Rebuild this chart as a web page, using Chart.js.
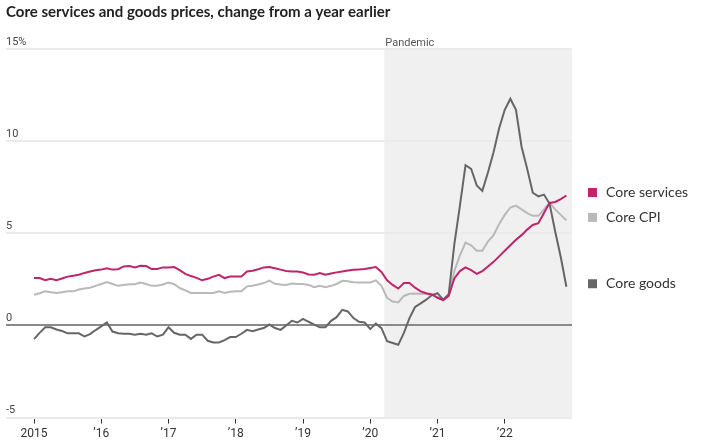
<!DOCTYPE html>
<html>
<head>
<meta charset="utf-8">
<script src="https://cdn.jsdelivr.net/npm/chart.js@4"></script>
<style>
  html, body { margin: 0; padding: 0; background: #fff; }
  #chart { display: block; }
</style>
</head>
<body>
<canvas id="chart" width="702" height="446"></canvas>
<script>
// monthly, Jan 2015 .. Dec 2022, % change from a year earlier
const coreServices = [
  2.57, 2.57, 2.45, 2.53, 2.45, 2.55, 2.65, 2.7, 2.75, 2.85, 2.93, 3.0,
  3.03, 3.1, 3.03, 3.05, 3.2, 3.22, 3.15, 3.24, 3.22, 3.06, 3.06, 3.15,
  3.15, 3.17, 3.0, 2.8, 2.68, 2.58, 2.45, 2.53, 2.65, 2.75, 2.57, 2.65,
  2.66, 2.66, 2.93, 2.97, 3.05, 3.15, 3.17, 3.1, 3.03, 2.95, 2.93, 2.93,
  2.87, 2.77, 2.75, 2.84, 2.75, 2.82, 2.88, 2.93, 2.98, 3.02, 3.04, 3.06,
  3.12, 3.17, 2.9, 2.45, 2.2, 2.0, 2.3, 2.3, 2.05, 1.85, 1.75, 1.68,
  1.5, 1.38, 1.6, 2.55, 2.95, 3.15, 3.0, 2.8, 2.95, 3.2, 3.45, 3.75,
  4.05, 4.35, 4.65, 4.9, 5.2, 5.45, 5.55, 6.1, 6.65, 6.7, 6.85, 7.05
];
const coreCPI = [
  1.67, 1.75, 1.85, 1.8, 1.76, 1.8, 1.85, 1.85, 1.95, 2.0, 2.05, 2.15,
  2.25, 2.35, 2.25, 2.15, 2.2, 2.24, 2.24, 2.33, 2.25, 2.15, 2.15, 2.22,
  2.33, 2.24, 2.03, 1.9, 1.76, 1.76, 1.76, 1.76, 1.76, 1.85, 1.76, 1.83,
  1.85, 1.85, 2.12, 2.15, 2.22, 2.3, 2.43, 2.26, 2.22, 2.2, 2.27, 2.25,
  2.25, 2.2, 2.08, 2.15, 2.08, 2.15, 2.25, 2.42, 2.4, 2.35, 2.33, 2.33,
  2.33, 2.45, 2.15, 1.5, 1.3, 1.25, 1.6, 1.72, 1.73, 1.72, 1.7, 1.65,
  1.55, 1.35, 1.65, 2.95, 3.8, 4.5, 4.35, 4.05, 4.05, 4.55, 4.9, 5.5,
  6.0, 6.4, 6.5, 6.3, 6.1, 5.95, 5.95, 6.3, 6.65, 6.3, 6.0, 5.7
];
const coreGoods = [
  -0.74, -0.4, -0.1, -0.1, -0.22, -0.3, -0.43, -0.43, -0.43, -0.6, -0.47, -0.25,
  -0.05, 0.16, -0.33, -0.42, -0.45, -0.45, -0.5, -0.45, -0.5, -0.43, -0.6, -0.5,
  -0.1, -0.4, -0.5, -0.5, -0.73, -0.5, -0.5, -0.83, -0.92, -0.92, -0.8, -0.63,
  -0.63, -0.45, -0.24, -0.31, -0.22, -0.14, 0.05, -0.14, -0.24, 0.0, 0.25, 0.16,
  0.36, 0.2, 0.05, -0.1, -0.1, 0.25, 0.45, 0.85, 0.76, 0.4, 0.2, 0.16,
  -0.2, 0.1, -0.15, -0.85, -0.95, -1.05, -0.4, 0.4, 1.0, 1.2, 1.4, 1.65,
  1.75, 1.4, 1.7, 4.4, 6.5, 8.7, 8.5, 7.6, 7.3, 8.3, 9.4, 10.7,
  11.7, 12.3, 11.7, 9.7, 8.5, 7.2, 7.0, 7.1, 6.6, 5.1, 3.7, 2.1
];
const seriesNames = ['Core services', 'Core goods', 'Core CPI'];
const yTicks = [-5, 0, 5, 10, 15];
const xTickLabels = ['2015', '\u201916', '\u201917', '\u201918', '\u201919', '\u201920', '\u201921', '\u201922'];
const pandemicStart = 62.5; // mid March 2020, in months since Jan 2015

const colors = { services: '#c0246a', cpi: '#b9b9b9', goods: '#666666' };
const labelFont = "Roboto, 'Liberation Sans', sans-serif";
const textFont = "Lato, 'Noto Sans', sans-serif";

const toPoints = arr => arr.map((v, i) => ({ x: i, y: v }));

const decorations = {
  id: 'decorations',
  beforeDraw(chart) {
    const { ctx, chartArea, scales } = chart;
    const x0 = scales.x.getPixelForValue(pandemicStart);
    ctx.save();
    ctx.fillStyle = '#f0f0f0';
    ctx.fillRect(x0, chartArea.top, chartArea.right - x0, chartArea.bottom - chartArea.top);
    ctx.restore();
  },
  afterDraw(chart) {
    const { ctx, chartArea, scales } = chart;
    ctx.save();
    // title
    ctx.fillStyle = '#222';
    ctx.font = "bold 15px " + textFont;
    ctx.textAlign = 'left';
    ctx.textBaseline = 'alphabetic';
    ctx.fillText('Core services and goods prices, change from a year earlier', 6, 17);
    // pandemic label
    ctx.font = '11px ' + labelFont;
    ctx.fillStyle = '#555';
    ctx.textBaseline = 'middle';
    ctx.fillText('Pandemic', scales.x.getPixelForValue(pandemicStart) + 1, chartArea.top - 6);
    // end legend
    const items = [
      { name: seriesNames[0], color: colors.services, v: coreServices[coreServices.length - 1] },
      { name: seriesNames[2], color: colors.cpi, v: coreCPI[coreCPI.length - 1] },
      { name: seriesNames[1], color: colors.goods, v: coreGoods[coreGoods.length - 1] }
    ];
    ctx.font = '14px ' + textFont;
    items.forEach(it => {
      const y = scales.y.getPixelForValue(it.v) - 3;
      ctx.fillStyle = it.color;
      ctx.fillRect(chartArea.right + 16, y - 4.5, 9, 9);
      ctx.fillStyle = '#333';
      ctx.fillText(it.name, chartArea.right + 34, y);
    });
    ctx.restore();
  }
};

new Chart(document.getElementById('chart'), {
  type: 'line',
  data: {
    datasets: [
      { label: seriesNames[0], data: toPoints(coreServices), borderColor: colors.services },
      { label: seriesNames[1], data: toPoints(coreGoods), borderColor: colors.goods },
      { label: seriesNames[2], data: toPoints(coreCPI), borderColor: colors.cpi }
    ]
  },
  options: {
    responsive: false,
    animation: false,
    devicePixelRatio: 1,
    layout: { padding: { left: 6, right: 130, top: 49, bottom: 2 } },
    elements: {
      line: { borderWidth: 2, tension: 0 },
      point: { radius: 0 }
    },
    plugins: { legend: { display: false }, tooltip: { enabled: false } },
    scales: {
      x: {
        type: 'linear',
        min: -5,
        max: 96,
        afterBuildTicks: s => { s.ticks = xTickLabels.map((t, i) => ({ value: i * 12 })); },
        ticks: {
          callback: v => xTickLabels[v / 12],
          color: '#333',
          font: { family: labelFont, size: 12 },
          maxRotation: 0,
          autoSkip: false,
          padding: 3
        },
        grid: { drawOnChartArea: false, tickLength: 6, tickColor: '#333', tickWidth: 1 },
        border: { display: false }
      },
      y: {
        min: -5,
        max: 15,
        afterBuildTicks: s => { s.ticks = yTicks.map(v => ({ value: v })); },
        ticks: {
          mirror: true,
          padding: 0,
          labelOffset: -7,
          callback: v => v === 15 ? '15%' : String(v),
          color: '#444',
          font: { family: labelFont, size: 11 }
        },
        grid: {
          drawTicks: false,
          lineWidth: 2,
          color: c => c.tick && c.tick.value === 0 ? '#8a8a8a' : '#ebebeb'
        },
        border: { display: false }
      }
    }
  },
  plugins: [decorations]
});
</script>
</body>
</html>
